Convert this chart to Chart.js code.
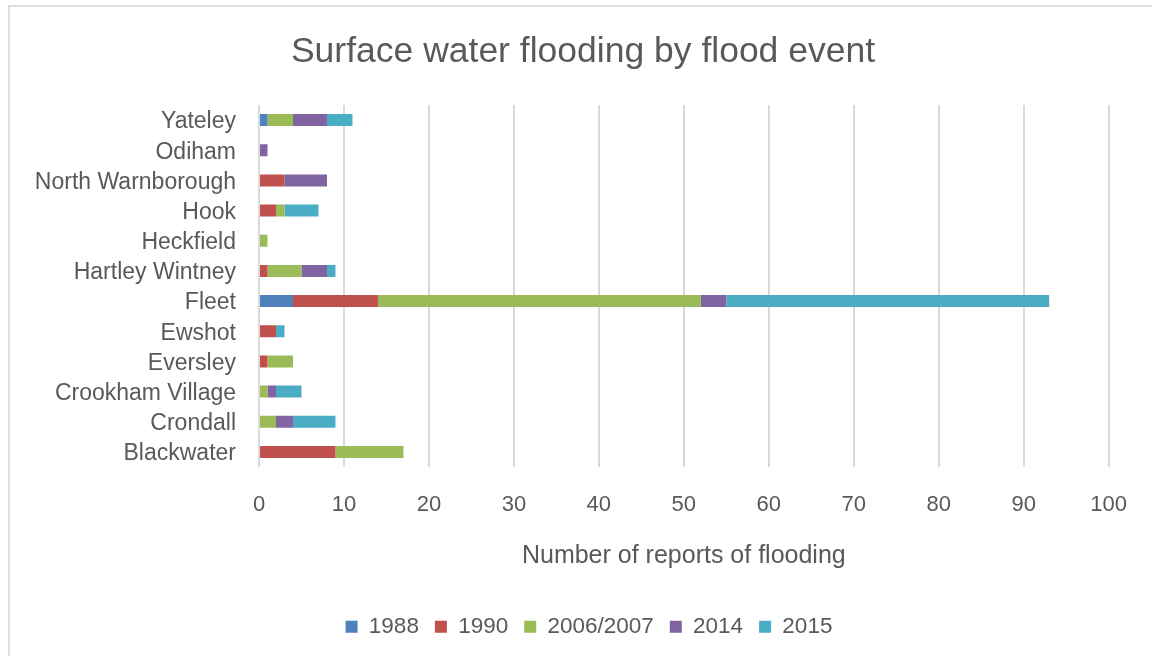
<!DOCTYPE html>
<html>
<head>
<meta charset="utf-8">
<title>Surface water flooding by flood event</title>
<script src="https://cdn.jsdelivr.net/npm/chart.js@4.4.1/dist/chart.umd.min.js"></script>
<style>
  html, body { margin: 0; padding: 0; background: #ffffff; }
  #wrap { position: relative; width: 1152px; height: 656px; overflow: hidden; }
  #frame {
    position: absolute; left: 8px; top: 5px; right: 0; bottom: 0;
    border-top: 2px solid #dedede; border-left: 2px solid #dedede;
  }
  #chart { position: absolute; left: 0; top: 0; }
</style>
</head>
<body>
<div id="wrap">
  <div id="frame"></div>
  <canvas id="chart" width="1152" height="656"></canvas>
</div>
<script>
// Settlements, listed top to bottom as they appear on the chart
const places = [
  'Yateley', 'Odiham', 'North Warnborough', 'Hook', 'Heckfield',
  'Hartley Wintney', 'Fleet', 'Ewshot', 'Eversley', 'Crookham Village',
  'Crondall', 'Blackwater'
];

// Reports of flooding per settlement for each flood event
const events = ['1988', '1990', '2006/2007', '2014', '2015'];
const reports1988 = [1, 0, 0, 0, 0, 0, 4, 0, 0, 0, 0, 0];
const reports1990 = [0, 0, 3, 2, 0, 1, 10, 2, 1, 0, 0, 9];
const reports2006 = [3, 0, 0, 1, 1, 4, 38, 0, 3, 1, 2, 8];
const reports2014 = [4, 1, 5, 0, 0, 3, 3, 0, 0, 1, 2, 0];
const reports2015 = [3, 0, 0, 4, 0, 1, 38, 1, 0, 3, 5, 0];

const eventColours = ['#4F81BD', '#C0504D', '#9BBB59', '#8064A2', '#4BACC6'];
const xTickMax = 100;
const xTickStep = 10;

const seriesValues = [reports1988, reports1990, reports2006, reports2014, reports2015];

const datasets = events.map((name, i) => ({
  label: name,
  data: seriesValues[i],
  backgroundColor: eventColours[i],
  borderWidth: 0,
  barPercentage: 0.8,
  categoryPercentage: 0.5
}));

const textGrey = '#595959';
const gridGrey = '#d9d9d9';
const family = '"Liberation Sans", Arial, Helvetica, sans-serif';

// Nudge the title and legend so they sit centred on the whole frame
// rather than on the space left after the category labels.
const centreBlocks = {
  id: 'centreBlocks',
  afterLayout(chart) {
    const shift = (box, dx) => { if (box) { box.left += dx; box.right += dx; } };
    shift(chart.titleBlock, 13);
    shift(chart.legend, 19);
  }
};

new Chart(document.getElementById('chart'), {
  type: 'bar',
  data: { labels: places, datasets },
  plugins: [centreBlocks],
  options: {
    indexAxis: 'y',
    responsive: false,
    animation: false,
    devicePixelRatio: 1,
    layout: { padding: { top: 0, left: 30, right: 42, bottom: 8 } },
    scales: {
      x: {
        stacked: true,
        min: 0,
        max: xTickMax,
        afterFit: (scale) => { scale.height = 132.5; },
        ticks: {
          stepSize: xTickStep,
          color: textGrey,
          padding: 25,
          font: { family, size: 22 }
        },
        grid: { color: gridGrey, lineWidth: 2, drawTicks: false },
        border: { display: false },
        title: {
          display: true,
          text: 'Number of reports of flooding',
          color: textGrey,
          font: { family, size: 25 },
          padding: { top: 10, bottom: 28.5 }
        }
      },
      y: {
        stacked: true,
        afterFit: (scale) => { scale.width = 229; },
        ticks: {
          autoSkip: false,
          color: textGrey,
          padding: 23,
          labelOffset: 2,
          font: { family, size: 23 }
        },
        grid: { display: false, drawTicks: false },
        border: { display: false }
      }
    },
    plugins: {
      title: {
        display: true,
        text: 'Surface water flooding by flood event',
        color: textGrey,
        font: { family, size: 35.5, weight: 'normal' },
        padding: { top: 31, bottom: 31.4 }
      },
      legend: {
        position: 'bottom',
        labels: {
          color: textGrey,
          boxWidth: 12,
          boxHeight: 12,
          padding: 16,
          font: { family, size: 22.5 }
        }
      },
      tooltip: { enabled: false }
    }
  }
});
</script>
</body>
</html>
